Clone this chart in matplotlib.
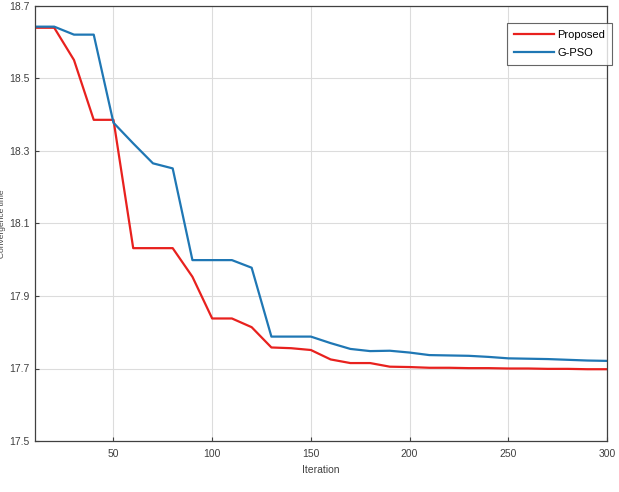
import matplotlib
matplotlib.use("Agg")
import matplotlib.pyplot as plt

# iterations (step 10)
iterations = list(range(10, 301, 10))

proposed = [18.640, 18.640, 18.551, 18.386, 18.386, 18.032, 18.032, 18.032, 17.953, 17.838,
            17.838, 17.814, 17.758, 17.756, 17.751, 17.725, 17.715, 17.715, 17.705, 17.704,
            17.702, 17.702, 17.701, 17.701, 17.700, 17.700, 17.699, 17.699, 17.698, 17.698]

gpso = [18.643, 18.643, 18.621, 18.621, 18.378, 18.321, 18.266, 18.252, 17.999, 17.999,
        17.999, 17.978, 17.788, 17.788, 17.788, 17.770, 17.754, 17.748, 17.749, 17.744,
        17.737, 17.736, 17.735, 17.732, 17.728, 17.727, 17.726, 17.724, 17.722, 17.721]

xticks = [50, 100, 150, 200, 250, 300]
yticks = [17.5, 17.7, 17.9, 18.1, 18.3, 18.5, 18.7]

plt.rcParams["font.family"] = ["Liberation Sans", "DejaVu Sans"]

fig = plt.figure(figsize=(6.19, 4.92), dpi=100)
ax = fig.add_axes([34.5 / 619, 1 - 441 / 492, 572.5 / 619, 435 / 492])

ax.plot(iterations, proposed, color="#E8211E", lw=1.6, label="Proposed")
ax.plot(iterations, gpso, color="#1F77B4", lw=1.6, label="G-PSO")

ax.set_xlim(10, 300)
ax.set_ylim(17.5, 18.7)
ax.set_xticks(xticks)
ax.set_yticks(yticks)
ax.set_yticklabels([f"{v:.1f}" for v in yticks])
ax.grid(True, color="#DCDCDC", lw=0.8)
ax.set_axisbelow(True)
ax.tick_params(direction="in", length=3, labelsize=7.5, colors="#404040", width=0.8)
ax.tick_params(axis="x", pad=6)
for s in ax.spines.values():
    s.set_color("#404040")
    s.set_linewidth(0.9)

ax.set_xlabel("Iteration", fontsize=7.5, color="#404040", labelpad=4)
ax.set_ylabel("Convergence time", fontsize=6, color="#404040")
ax.yaxis.set_label_coords(-0.050, 0.5)

leg = ax.legend(loc="upper right", fontsize=8, frameon=True, fancybox=False,
                edgecolor="#404040", handlelength=3.6, handletextpad=0.3,
                borderaxespad=0, labelspacing=0.75, borderpad=0.6,
                bbox_to_anchor=(612 / 619, 1 - 23 / 492),
                bbox_transform=fig.transFigure)
leg.get_frame().set_linewidth(0.8)

fig.savefig("out.png", dpi=100)
